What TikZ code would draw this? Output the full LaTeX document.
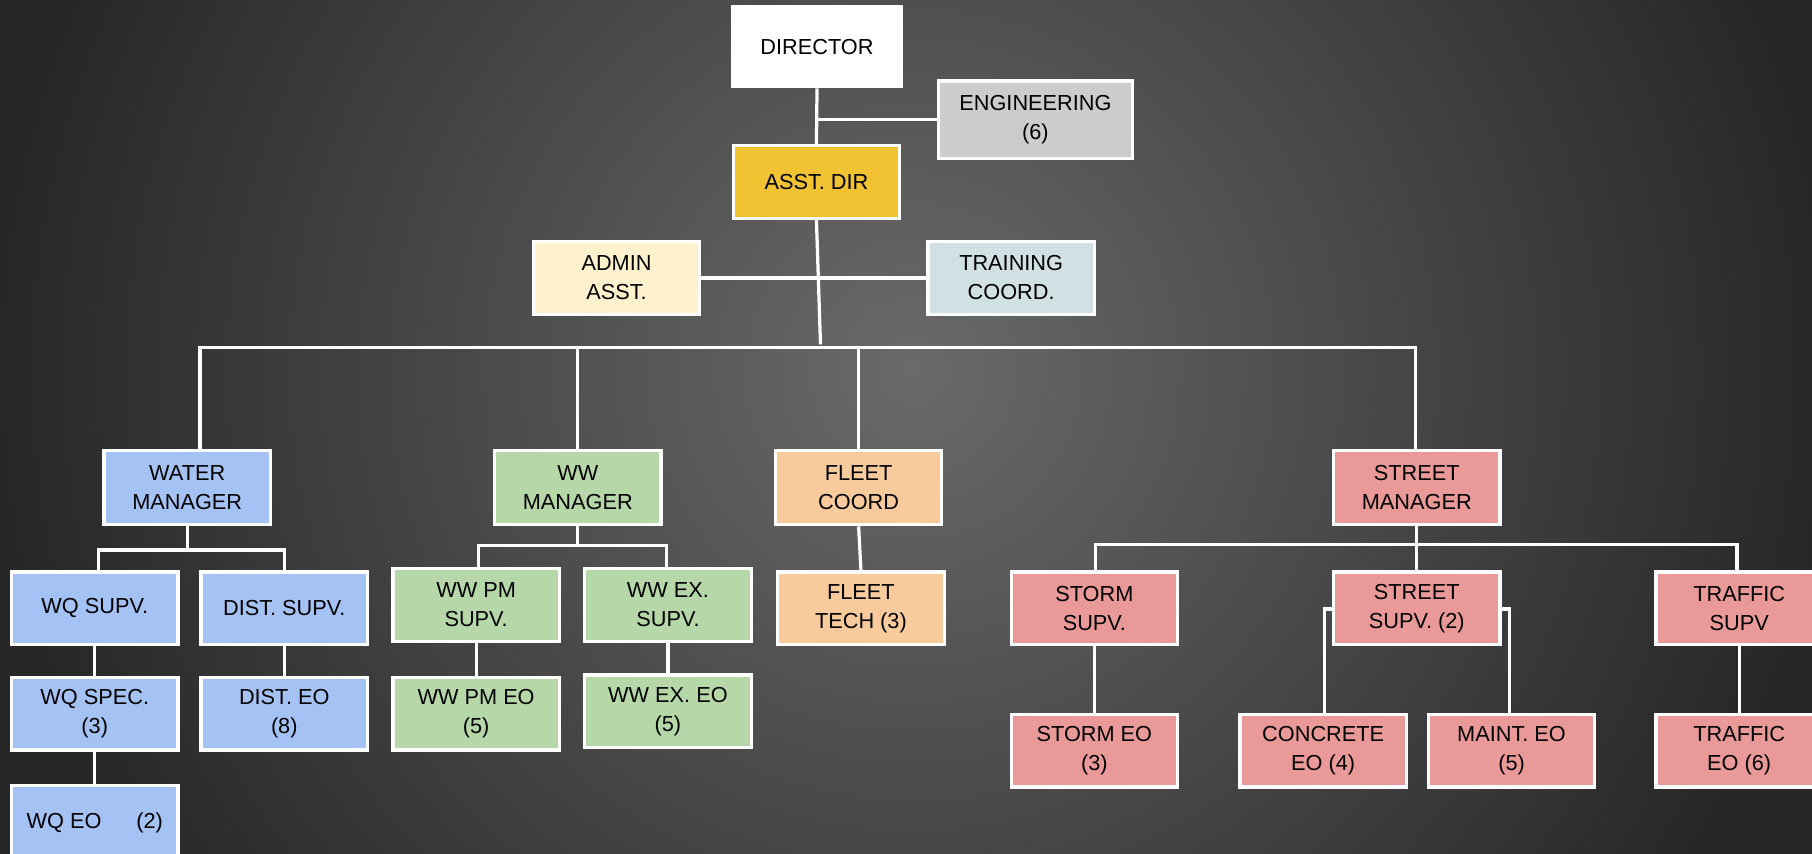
\documentclass[tikz,border=0pt]{standalone}
\usepackage{fontspec}
\setmainfont{Liberation Sans}
\definecolor{bgin}{HTML}{6A6A6A}
\definecolor{bgout}{HTML}{272727}
\definecolor{cdir}{HTML}{FFFFFF}
\definecolor{ceng}{HTML}{CCCCCC}
\definecolor{casst}{HTML}{F1C232}
\definecolor{cadmin}{HTML}{FFF2CC}
\definecolor{ctrain}{HTML}{D0E0E3}
\definecolor{cblue}{HTML}{A4C2F4}
\definecolor{cgreen}{HTML}{B6D7A8}
\definecolor{corange}{HTML}{F9CB9C}
\definecolor{cred}{HTML}{EA9999}
\pgfdeclareradialshading{bgshade}{\pgfpoint{0bp}{0bp}}{color(0bp)=(bgin); color(22bp)=(bgout); color(25bp)=(bgout); color(50bp)=(bgout)}
\tikzset{
  box/.style={draw=white, line width=1.4pt, minimum width=72pt, minimum height=31.5pt,
    inner sep=1pt, align=center, text=black,
    font=\fontsize{9.4}{12.5}\selectfont},
  conn/.style={draw=white, line width=1.4pt}
}
\begin{document}
\begin{tikzpicture}[x=0.5pt,y=-0.5pt]
\useasboundingbox (0,0) rectangle (1568,739);
\clip (0,0) rectangle (1568,739);
\shade[shading=bgshade] (-110,-580) rectangle (1690,1220);
% top
\node[box, fill=cdir, minimum width=73pt, minimum height=34.5pt] (dir) at (707,40.5) {DIRECTOR};
\node[box, fill=ceng, minimum width=84pt, minimum height=33.5pt] (eng) at (896,103.5) {ENGINEERING\\(6)};
\node[box, fill=casst] (asst) at (706.5,157.5) {ASST. DIR};
\node[box, fill=cadmin] (admin) at (533.5,240.5) {ADMIN\\ASST.};
\node[box, fill=ctrain] (train) at (875,240.5) {TRAINING\\COORD.};
% managers
\node[box, fill=cblue, minimum height=32pt] (water) at (162,422) {WATER\\MANAGER};
\node[box, fill=cgreen, minimum height=32pt] (wwm) at (500,422) {WW\\MANAGER};
\node[box, fill=corange, minimum height=32pt] (fleet) at (743,422) {FLEET\\COORD};
\node[box, fill=cred, minimum height=32pt] (street) at (1226,422) {STREET\\MANAGER};
% supervisors
\node[box, fill=cblue] (wqs) at (82,526.5) {WQ SUPV.};
\node[box, fill=cblue] (dists) at (246,526.5) {DIST. SUPV.};
\node[box, fill=cgreen] (wwpm) at (412,523.5) {WW PM\\SUPV.};
\node[box, fill=cgreen] (wwex) at (578,523.5) {WW EX.\\SUPV.};
\node[box, fill=corange] (ftech) at (745,526.5) {FLEET\\TECH (3)};
\node[box, fill=cred] (storms) at (947,526.5) {STORM\\SUPV.};
\node[box, fill=cred] (streets) at (1226,526.5) {STREET\\SUPV. (2)};
\node[box, fill=cred] (traffics) at (1505,526.5) {TRAFFIC\\SUPV};
% third level
\node[box, fill=cblue] (wqspec) at (82,617.5) {WQ SPEC.\\(3)};
\node[box, fill=cblue] (disteo) at (246,617.5) {DIST. EO\\(8)};
\node[box, fill=cgreen] (wwpmeo) at (412,617.5) {WW PM EO\\(5)};
\node[box, fill=cgreen] (wwexeo) at (578,615.5) {WW EX. EO\\(5)};
\node[box, fill=cred] (stormeo) at (947,649.5) {STORM EO\\(3)};
\node[box, fill=cred] (concrete) at (1145,649.5) {CONCRETE\\EO (4)};
\node[box, fill=cred] (maint) at (1308,649.5) {MAINT. EO\\(5)};
\node[box, fill=cred] (trafficeo) at (1505,649.5) {TRAFFIC\\EO (6)};
\node[box, fill=cblue, minimum height=32pt] (wqeo) at (82,712) {WQ EO\hspace{1.6em}(2)};
% connectors
\draw[conn] (dir.south) -- (asst.north);
\draw[conn] (eng.west) -- (eng.west -| dir.south);
\coordinate (bus) at (710,298);
\draw[conn] (asst.south) -- (bus);
\draw[conn] (admin.east) -- (train.west);
\coordinate (busL) at (173,301);
\coordinate (busR) at (1225,301);
\draw[conn] (busL |- water.north) -- (busL) -- (busR) -- (busR |- street.north);
\draw[conn] (wwm.north |- busL) -- (wwm.north);
\draw[conn] (fleet.north |- busL) -- (fleet.north);
% water
\coordinate (wA) at (85,476);
\coordinate (wB) at (246,476);
\draw[conn] (water.south) -- (water.south |- wA);
\draw[conn] (wA |- wqs.north) -- (wA) -- (wB) -- (wB |- dists.north);
\draw[conn] (wqs.south) -- (wqspec.north);
\draw[conn] (wqspec.south) -- (wqeo.north);
\draw[conn] (dists.south) -- (disteo.north);
% ww
\coordinate (gA) at (414,472);
\coordinate (gB) at (577,472);
\draw[conn] (wwm.south) -- (wwm.south |- gA);
\draw[conn] (gA |- wwpm.north) -- (gA) -- (gB) -- (gB |- wwex.north);
\draw[conn] (wwpm.south) -- (wwpmeo.north);
\draw[conn] (wwex.south) -- (wwexeo.north);
% fleet
\draw[conn] (fleet.south) -- (ftech.north);
% street
\coordinate (sA) at (948,471);
\coordinate (sB) at (1503,471);
\draw[conn] (street.south) -- (streets.north);
\draw[conn] (sA |- storms.north) -- (sA) -- (sB) -- (sB |- traffics.north);
\draw[conn] (storms.south) -- (stormeo.north);
\coordinate (cL) at (1146,527);
\coordinate (cR) at (1306,527);
\draw[conn] (streets.west |- cL) -- (cL) -- (cL |- concrete.north);
\draw[conn] (streets.east |- cR) -- (cR) -- (cR |- maint.north);
\draw[conn] (traffics.south) -- (trafficeo.north);
\end{tikzpicture}
\end{document}
